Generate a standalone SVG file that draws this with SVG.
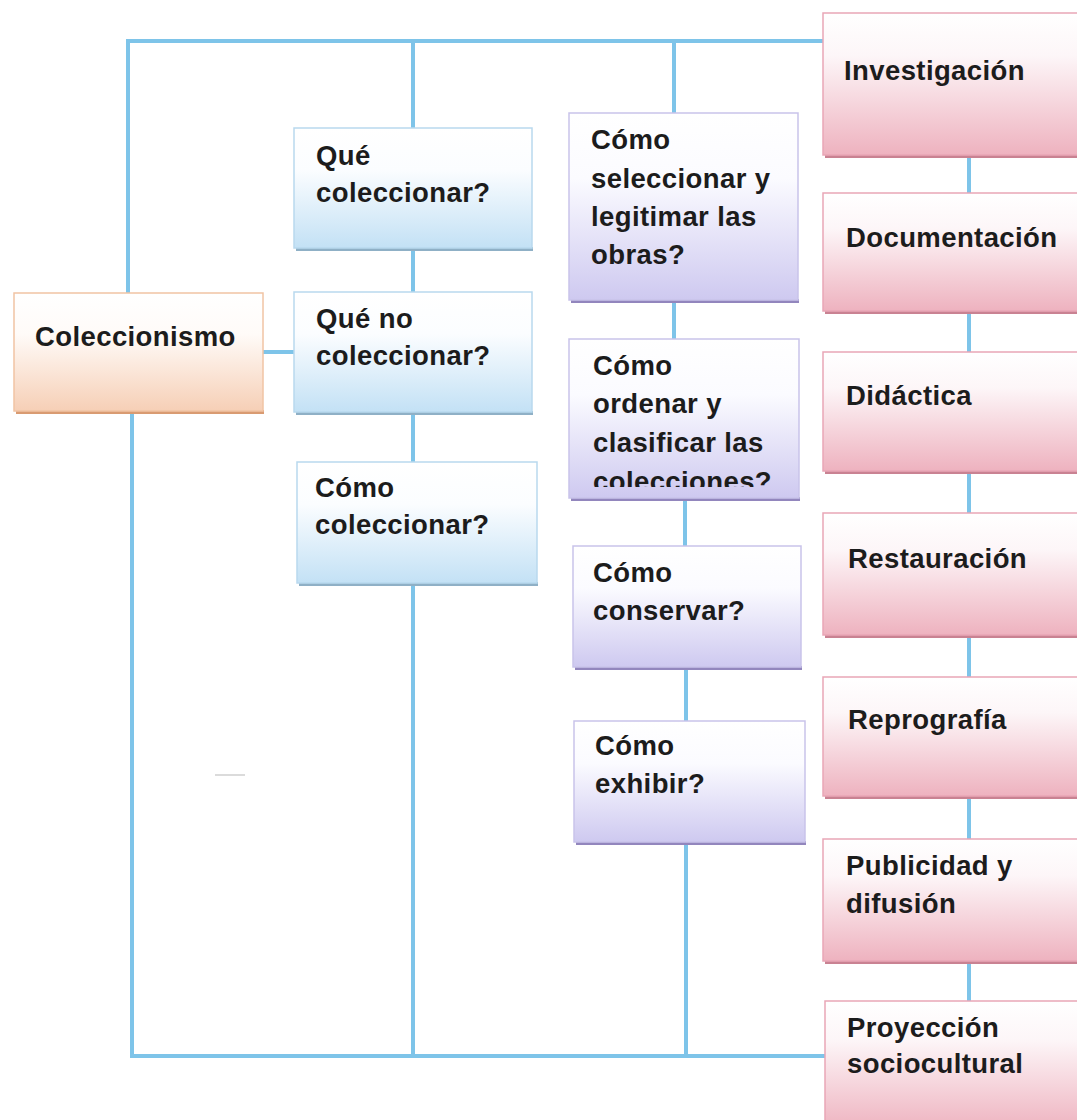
<svg xmlns="http://www.w3.org/2000/svg" width="1077" height="1120" viewBox="0 0 1077 1120">
<style>
  .t { font-family: "Liberation Sans", Arial, sans-serif; font-weight: bold; font-size: 27.5px; letter-spacing: 0.4px; fill: #1c1c1c; }
  .con { stroke: #7ec4e9; stroke-width: 4; fill: none; stroke-linecap: square; }
  .blue { fill: url(#gBlue); stroke: #b9d9ee; stroke-width: 1.5; }
  .orange { fill: url(#gOrange); stroke: #f1c4a4; stroke-width: 1.5; }
  .purple { fill: url(#gPurple); stroke: #c9c3ea; stroke-width: 1.5; }
  .pink { fill: url(#gPink); stroke: #e9a6b6; stroke-width: 1.5; }
  .sBlue { fill: #8fb0c6; }
  .sOrange { fill: #d99b72; }
  .sPurple { fill: #9286bd; }
  .sPink { fill: #c98292; }
</style>
<defs>
  <linearGradient id="gBlue" x1="0" y1="0" x2="0" y2="1">
    <stop offset="0" stop-color="#ffffff"/>
    <stop offset="0.35" stop-color="#fbfdff"/>
    <stop offset="1" stop-color="#c3e1f5"/>
  </linearGradient>
  <linearGradient id="gOrange" x1="0" y1="0" x2="0" y2="1">
    <stop offset="0" stop-color="#ffffff"/>
    <stop offset="0.35" stop-color="#fffbf8"/>
    <stop offset="1" stop-color="#f6cfb6"/>
  </linearGradient>
  <linearGradient id="gPurple" x1="0" y1="0" x2="0" y2="1">
    <stop offset="0" stop-color="#ffffff"/>
    <stop offset="0.35" stop-color="#fbfbff"/>
    <stop offset="1" stop-color="#cec9f0"/>
  </linearGradient>
  <linearGradient id="gPink" x1="0" y1="0" x2="0" y2="1">
    <stop offset="0" stop-color="#ffffff"/>
    <stop offset="0.3" stop-color="#fdf6f8"/>
    <stop offset="1" stop-color="#eeb2bf"/>
  </linearGradient>
  <clipPath id="clipOrd">
    <rect x="569" y="339" width="230" height="148"/>
  </clipPath>
</defs>

<rect width="1077" height="1120" fill="#ffffff"/>

<g id="connectors">
  <polyline class="con" points="128,293 128,41 823,41"/>
  <line class="con" x1="413" y1="41" x2="413" y2="128"/>
  <line class="con" x1="674" y1="41" x2="674" y2="113"/>
  <line class="con" x1="413" y1="250" x2="413" y2="292"/>
  <line class="con" x1="413" y1="414" x2="413" y2="462"/>
  <line class="con" x1="263" y1="352" x2="294" y2="352"/>
  <line class="con" x1="674" y1="302" x2="674" y2="339"/>
  <line class="con" x1="685" y1="500" x2="685" y2="546"/>
  <line class="con" x1="686" y1="669" x2="686" y2="721"/>
  <polyline class="con" points="132,413 132,1056 825,1056"/>
  <line class="con" x1="413" y1="585" x2="413" y2="1056"/>
  <line class="con" x1="686" y1="844" x2="686" y2="1056"/>
  <line class="con" x1="969" y1="157" x2="969" y2="193"/>
  <line class="con" x1="969" y1="313" x2="969" y2="352"/>
  <line class="con" x1="969" y1="473" x2="969" y2="513"/>
  <line class="con" x1="969" y1="637" x2="969" y2="677"/>
  <line class="con" x1="969" y1="798" x2="969" y2="839"/>
  <line class="con" x1="969" y1="963" x2="969" y2="1001"/>
</g>

<g id="coleccionismo">
  <rect class="sOrange" x="16" y="410" width="248" height="4"/>
  <rect class="orange" x="14" y="293" width="249" height="118"/>
  <text class="t" x="35" y="346">Coleccionismo</text>
</g>

<g id="que-coleccionar">
  <rect class="sBlue" x="296" y="247" width="237" height="4"/>
  <rect class="blue" x="294" y="128" width="238" height="120"/>
  <text class="t" x="316" y="165">Qué</text>
  <text class="t" x="316" y="202">coleccionar?</text>
</g>

<g id="que-no-coleccionar">
  <rect class="sBlue" x="296" y="411" width="237" height="4"/>
  <rect class="blue" x="294" y="292" width="238" height="120"/>
  <text class="t" x="316" y="328">Qué no</text>
  <text class="t" x="316" y="365">coleccionar?</text>
</g>

<g id="como-coleccionar">
  <rect class="sBlue" x="299" y="582" width="239" height="4"/>
  <rect class="blue" x="297" y="462" width="240" height="121"/>
  <text class="t" x="315" y="497">Cómo</text>
  <text class="t" x="315" y="534">coleccionar?</text>
</g>

<g id="como-seleccionar">
  <rect class="sPurple" x="571" y="299" width="228" height="4"/>
  <rect class="purple" x="569" y="113" width="229" height="187"/>
  <text class="t" x="591" y="149">Cómo</text>
  <text class="t" x="591" y="188">seleccionar y</text>
  <text class="t" x="591" y="226">legitimar las</text>
  <text class="t" x="591" y="264">obras?</text>
</g>

<g id="como-ordenar">
  <rect class="sPurple" x="571" y="497" width="229" height="4"/>
  <rect class="purple" x="569" y="339" width="230" height="159"/>
  <g clip-path="url(#clipOrd)">
    <text class="t" x="593" y="375">Cómo</text>
    <text class="t" x="593" y="413">ordenar y</text>
    <text class="t" x="593" y="452">clasificar las</text>
    <text class="t" x="593" y="491">colecciones?</text>
  </g>
</g>

<g id="como-conservar">
  <rect class="sPurple" x="575" y="666" width="227" height="4"/>
  <rect class="purple" x="573" y="546" width="228" height="121"/>
  <text class="t" x="593" y="582">Cómo</text>
  <text class="t" x="593" y="620">conservar?</text>
</g>

<g id="como-exhibir">
  <rect class="sPurple" x="576" y="841" width="230" height="4"/>
  <rect class="purple" x="574" y="721" width="231" height="121"/>
  <text class="t" x="595" y="755">Cómo</text>
  <text class="t" x="595" y="793">exhibir?</text>
</g>

<g id="investigacion">
  <rect class="sPink" x="825" y="154" width="260" height="4"/>
  <rect class="pink" x="823" y="13" width="262" height="142"/>
  <text class="t" x="844" y="80">Investigación</text>
</g>

<g id="documentacion">
  <rect class="sPink" x="825" y="310" width="260" height="4"/>
  <rect class="pink" x="823" y="193" width="262" height="118"/>
  <text class="t" x="846" y="247">Documentación</text>
</g>

<g id="didactica">
  <rect class="sPink" x="825" y="470" width="260" height="4"/>
  <rect class="pink" x="823" y="352" width="262" height="119"/>
  <text class="t" x="846" y="405">Didáctica</text>
</g>

<g id="restauracion">
  <rect class="sPink" x="825" y="634" width="260" height="4"/>
  <rect class="pink" x="823" y="513" width="262" height="122"/>
  <text class="t" x="848" y="568">Restauración</text>
</g>

<g id="reprografia">
  <rect class="sPink" x="825" y="795" width="260" height="4"/>
  <rect class="pink" x="823" y="677" width="262" height="119"/>
  <text class="t" x="848" y="729">Reprografía</text>
</g>

<g id="publicidad">
  <rect class="sPink" x="825" y="960" width="260" height="4"/>
  <rect class="pink" x="823" y="839" width="262" height="122"/>
  <text class="t" x="846" y="875">Publicidad y</text>
  <text class="t" x="846" y="913">difusión</text>
</g>

<g id="proyeccion">
  <rect class="pink" x="825" y="1001" width="262" height="130"/>
  <text class="t" x="847" y="1037">Proyección</text>
  <text class="t" x="847" y="1073">sociocultural</text>
</g>

<line x1="215" y1="775" x2="245" y2="775" stroke="#cfcfcf" stroke-width="1.5"/>
</svg>
